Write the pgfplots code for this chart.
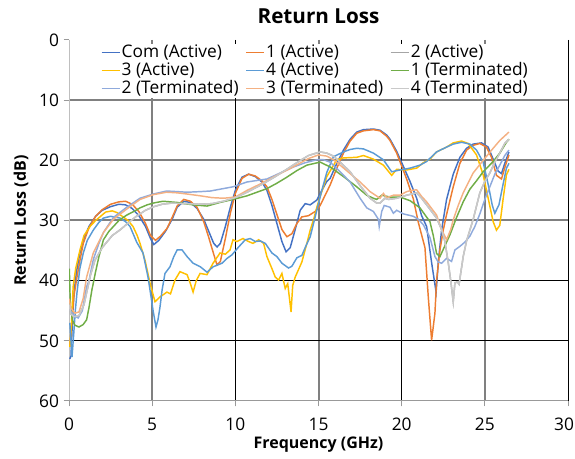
\documentclass[border=0pt]{standalone}
\usepackage{pgfplots}
\pgfplotsset{compat=1.18}
\usepackage{fontspec}
\setmainfont{Open Sans}
\definecolor{c0}{HTML}{4472C4}
\definecolor{c1}{HTML}{ED7D31}
\definecolor{c2}{HTML}{A5A5A5}
\definecolor{c3}{HTML}{FFC000}
\definecolor{c4}{HTML}{5B9BD5}
\definecolor{c5}{HTML}{70AD47}
\definecolor{c6}{HTML}{8FAADC}
\definecolor{c7}{HTML}{F4B183}
\definecolor{c8}{HTML}{C9C9C9}
\definecolor{gridgray}{HTML}{808080}
\newcommand{\fs}{\fontsize{13}{15}\selectfont}
\newcommand{\fl}{\fontsize{12}{14}\selectfont}
\newcommand{\ft}{\fontsize{15.5}{18}\selectfont}
\begin{document}
\begin{tikzpicture}
\begin{axis}[
  at={(0,0)}, anchor=south west,
  scale only axis, width=374.25pt, height=270.75pt,
  xmin=0, xmax=30, ymin=0, ymax=60, y dir=reverse,
  xtick={0,5,...,25}, ytick={0,10,...,60},
  minor xtick={5,15,25}, minor ytick={10,20,30},
  xminorgrids=true, yminorgrids=true,
  minor grid style={gridgray, line width=1.5pt},
  extra x ticks={10,20,30}, extra x tick labels={,,30},
  extra x tick style={xmajorgrids=true, major grid style={black, line width=0.75pt},
    xticklabel style={xshift=-3pt}},
  extra y ticks={40,50}, extra y tick labels={},
  extra y tick style={ymajorgrids=true, major grid style={black, line width=0.75pt}},
  axis line style={draw=none},
  tick style={black!40, line width=0.75pt},
  major tick length=4pt, minor tick length=0pt,
  tick align=outside,
  xtick pos=bottom, ytick pos=left,
  ticklabel style={font=\fs},
  xticklabel style={yshift=-5pt},
  /pgf/number format/assume math mode=true,
  legend columns=3,
  legend cell align=left,
  legend style={at={(0.493,1)}, anchor=north, yshift=-2.25pt, draw=none, fill=none,
    font=\fs, inner sep=0pt, row sep=0pt,
    nodes={inner xsep=1pt, inner ysep=0.25pt},
    /tikz/every even column/.style={column sep=4pt}},
  legend image code/.code={\path[draw=none, fill=none] (0pt,-6.75pt) rectangle (13.5pt,6.75pt);
    \draw[#1, line width=1.1pt] (0pt,0pt) -- (13.5pt,0pt);},
  every axis plot/.append style={line width=1.1pt},
]
\fill[white] (axis cs:1.8,0.7) rectangle (axis cs:27.7,9.6);
\draw[black!25, line width=0.75pt] (axis cs:0,0) -- (axis cs:0,60);
\draw[black!40, line width=0.75pt] (axis cs:0,60) -- (axis cs:30,60);

\addplot[c0] coordinates {(0.05,53) (0.12,52.5) (0.2,47) (0.3,42) (0.45,38.5) (0.65,35.5) (0.9,33) (1.2,31) (1.6,29.3) (2.0,28.3) (2.5,27.7) (3.0,27.3) (3.4,27.4) (3.8,28) (4.2,29.2) (4.6,31) (4.9,33) (5.1,34) (5.4,33.3) (5.8,31.8) (6.2,29.8) (6.5,27.8) (6.9,26.8) (7.3,27) (7.7,28) (8.1,29.8) (8.4,31.8) (8.7,33.8) (8.9,34.4) (9.1,33.8) (9.4,31) (9.7,27.8) (10.0,25) (10.4,22.8) (10.8,22.3) (11.2,22.7) (11.6,23.6) (11.9,25) (12.2,27.5) (12.5,30.5) (12.8,33.5) (13.05,35.2) (13.3,34.5) (13.6,31.5) (13.9,28.3) (14.2,27.2) (14.5,27.4) (14.9,26.6) (15.2,25) (15.5,23.5) (15.7,23) (16.1,20.5) (16.5,18.3) (16.9,16.5) (17.3,15.3) (17.7,14.9) (18.3,14.8) (18.7,15) (19.1,15.8) (19.3,16.5) (19.7,18.5) (20.1,21) (20.5,23.5) (20.9,26.3) (21.2,29.2) (21.5,31) (21.8,37) (22.07,41.9) (22.2,37) (22.4,31.6) (22.7,26.5) (23.1,22.3) (23.5,19.5) (23.9,18) (24.3,17.3) (24.8,17.1) (25.2,17.8) (25.5,19.8) (25.8,21.8) (26.0,22.2) (26.2,20.5) (26.45,18.6)};
\addlegendentry{Com (Active)}
\addplot[c1] coordinates {(0.05,51) (0.15,47.5) (0.3,42.5) (0.48,39.4) (0.7,36) (0.86,33.8) (1.2,31.2) (1.6,29.3) (2.0,28.2) (2.5,27.3) (3.0,26.9) (3.4,26.8) (3.8,27.3) (4.2,28.5) (4.6,30.5) (4.9,32.5) (5.2,33.3) (5.5,32.6) (5.9,31.3) (6.2,29.5) (6.5,27.6) (6.9,26.5) (7.3,26.8) (7.7,27.8) (8.1,30.2) (8.4,32.8) (8.7,35.6) (8.9,37.4) (9.1,36.8) (9.4,33) (9.7,28.8) (10.0,25.5) (10.4,23) (10.8,22.3) (11.2,22.6) (11.6,23.4) (11.9,24.4) (12.2,26.5) (12.5,29) (12.8,31.5) (13.1,32.7) (13.4,32.2) (13.7,30.5) (14.0,29.4) (14.4,29.2) (14.8,28.5) (15.1,27.5) (15.4,25.8) (15.7,24.1) (16.1,21.3) (16.5,18.8) (16.9,16.8) (17.3,15.5) (17.7,15.1) (18.3,14.9) (18.7,15.1) (19.1,16) (19.3,16.7) (19.7,18.8) (20.3,23.1) (20.7,26.4) (21.0,30.3) (21.4,34.5) (21.6,42.7) (21.8,49.9) (22.0,45.4) (22.1,39.9) (22.3,34.9) (22.5,31.6) (22.7,29) (23.1,24.4) (23.5,20.5) (23.9,18.3) (24.3,17.5) (24.7,17.2) (25.1,17.8) (25.4,19.5) (25.7,22.5) (26.0,23.1) (26.2,21.2) (26.45,19.1)};
\addlegendentry{1 (Active)}
\addplot[c2] coordinates {(0.02,44) (0.1,45.5) (0.3,46) (0.6,45.8) (0.9,44) (1.1,41.5) (1.3,39) (1.56,36.6) (2.0,34.5) (2.6,32.5) (3.1,31.5) (3.6,30.3) (4.1,29.2) (4.6,28.3) (5.1,27.7) (5.6,27.3) (6.2,27.1) (7.0,27.2) (7.8,27.3) (8.6,27.2) (9.3,26.8) (10.0,26.2) (10.7,25.3) (11.6,24) (12.4,22.7) (13.2,21.3) (13.8,20.2) (14.4,19.2) (15.1,18.6) (15.5,18.8) (15.9,19.3) (16.3,20.3) (16.9,21.9) (17.5,24.2) (18.1,26.3) (18.5,27.1) (18.7,27.1) (19.0,26.3) (19.2,26.5) (19.7,26.3) (20.3,25.8) (20.9,25.4) (21.2,26.3) (21.5,27.4) (22.1,29.6) (22.4,31.5) (22.6,33.5) (22.8,37) (22.95,40) (23.1,43.5) (23.2,40.4) (23.35,40.2) (23.45,40.6) (23.7,36) (23.9,33.4) (24.3,29.8) (24.7,25.4) (25.0,23.5) (25.3,22.1) (25.6,20.3) (25.9,18.8) (26.2,17.2) (26.45,16.5)};
\addlegendentry{2 (Active)}
\addplot[c3] coordinates {(0.05,51) (0.15,47) (0.25,41) (0.4,38) (0.66,34.9) (0.9,32.5) (1.26,31) (1.6,30) (1.86,29.4) (2.2,28.6) (2.6,28.4) (2.9,28.7) (3.25,29.4) (3.55,30) (3.85,31) (4.1,32.5) (4.27,33.8) (4.57,36.6) (4.87,40.4) (5.17,43.5) (5.47,42.7) (5.89,41.9) (6.1,42.2) (6.37,39.9) (6.67,38.5) (7.1,39) (7.3,40.5) (7.46,41.9) (7.65,40) (7.88,38.8) (8.3,39) (8.66,37.1) (9.08,35.4) (9.4,35.6) (9.68,34.9) (9.86,33.2) (10.1,33.5) (10.46,33) (10.8,33.5) (11.06,33.8) (11.4,33.2) (11.7,33.8) (11.9,36) (12.2,38) (12.4,39.4) (12.6,39.9) (12.8,38.8) (13.0,41.3) (13.15,40.5) (13.35,45.2) (13.45,40.8) (13.6,39.4) (14.0,36.9) (14.3,33.8) (14.5,31.6) (14.7,29.9) (14.9,27.8) (15.1,26) (15.5,22.7) (16.1,19.9) (16.5,19.6) (17.3,19.5) (17.7,19.2) (18.3,19.8) (18.9,20.8) (19.4,22.5) (19.7,21.5) (20.3,21.6) (20.9,21.3) (21.3,20.4) (21.7,19.8) (22.1,18.6) (22.7,17.8) (23.1,17.1) (23.6,16.8) (24.0,17.2) (24.5,19.1) (24.9,22.4) (25.2,26.3) (25.5,30.2) (25.7,31.6) (25.9,30.8) (26.1,26.4) (26.3,22.4) (26.45,21.5)};
\addlegendentry{3 (Active)}
\addplot[c4] coordinates {(0.05,47) (0.12,50) (0.18,52.7) (0.28,49) (0.38,45) (0.48,42) (0.65,38) (0.86,35.4) (1.1,33.3) (1.46,31.6) (1.8,30.3) (2.07,29.6) (2.5,29.3) (3.07,29.6) (3.4,30.2) (3.67,31) (4.07,33.6) (4.45,35.4) (4.75,39.4) (4.95,43) (5.05,44.9) (5.23,47.7) (5.35,46.5) (5.47,44.4) (5.6,41.5) (5.77,38.8) (6.07,37.7) (6.3,36) (6.5,34.9) (6.8,34.9) (7.1,36) (7.46,37.1) (7.9,37.7) (8.3,38.6) (8.66,37.7) (9.2,37.1) (9.5,36.3) (9.8,35.7) (10.2,34.4) (10.6,33.2) (10.9,33) (11.2,33.5) (11.5,33.4) (11.8,33.8) (12.2,35.4) (12.5,36) (12.8,37.1) (13.2,37.9) (13.4,37.6) (13.7,36.2) (14.0,35.8) (14.2,34.5) (14.5,32.7) (14.9,28.3) (15.2,25) (15.5,22) (15.9,19.4) (16.5,18.6) (16.9,18.2) (17.3,18) (17.7,18.1) (18.3,18.8) (18.9,19.9) (19.4,21.9) (19.9,21.6) (20.5,21.3) (21.1,20.8) (21.5,20.2) (22.1,18.6) (22.7,17.8) (23.1,17.3) (23.6,17) (24.1,17.3) (24.5,18.3) (24.9,20.3) (25.2,24) (25.45,27.5) (25.6,28.8) (25.85,27.4) (26.05,24.6) (26.3,21.3) (26.45,20.5)};
\addlegendentry{4 (Active)}
\addplot[c5] coordinates {(0.02,38) (0.08,44) (0.2,46.5) (0.35,47.4) (0.6,47.7) (0.85,47.3) (1.06,46.5) (1.2,44.5) (1.38,41.5) (1.6,38.5) (1.8,36) (2.07,33.2) (2.4,31.8) (2.67,31) (3.0,30) (3.47,29.1) (3.9,28.5) (4.27,27.9) (4.7,27.4) (5.07,27.1) (5.65,26.8) (6.5,27) (7.46,27.4) (8.3,27.6) (9.08,27) (9.86,26.5) (10.7,25.9) (11.9,24.7) (12.5,23.8) (13.1,22.8) (13.7,21.7) (14.3,20.8) (15.1,20.3) (15.7,21.1) (16.5,22.7) (17.3,24.4) (17.9,25.8) (18.3,26.3) (18.5,26.5) (18.8,25.8) (19.3,26.1) (19.9,26.1) (20.5,26.7) (21.1,27.9) (21.7,30.2) (21.9,32.5) (22.1,35.5) (22.3,36) (22.5,34.8) (22.9,32.4) (23.3,29.5) (23.7,26.9) (24.1,24.8) (24.5,23.4) (24.9,21.9) (25.5,20.2) (25.9,18.8) (26.3,17) (26.45,16.5)};
\addlegendentry{1 (Terminated)}
\addplot[c6] coordinates {(0.02,44) (0.1,45) (0.3,45.8) (0.55,46.2) (0.8,45) (1.06,41) (1.2,40) (1.46,36.5) (1.8,33.8) (2.07,32) (2.67,29.5) (3.47,27.8) (4.27,26.3) (5.07,25.6) (5.87,25.1) (6.5,25.2) (7.1,25.3) (7.9,25.2) (8.5,25.1) (9.08,24.8) (9.86,24.4) (10.7,23.6) (11.9,23.1) (12.7,22.1) (13.5,21.1) (14.2,20.4) (14.9,19.9) (15.3,19.9) (15.7,20.3) (16.3,21.9) (16.9,23.6) (17.5,26.3) (17.9,27.9) (18.3,28.5) (18.6,29.8) (18.65,31) (18.8,28.5) (18.95,27.5) (19.3,27.8) (19.5,28.8) (19.7,28.3) (20.1,28.9) (20.7,29.3) (21.0,29.8) (21.3,30.7) (21.7,32.8) (22.0,36) (22.2,36.9) (22.4,37.1) (22.7,36.3) (23.0,36.8) (23.2,34.9) (23.5,34.3) (23.8,33.6) (24.1,32.6) (24.4,31) (24.7,28.9) (25.0,26.5) (25.3,24.4) (25.6,22.3) (25.9,20.8) (26.2,19.2) (26.45,18.3)};
\addlegendentry{2 (Terminated)}
\addplot[c7] coordinates {(0.02,43) (0.1,44.5) (0.36,45.4) (0.6,45.2) (0.85,43) (1.06,39.4) (1.46,35.4) (2.07,32) (2.67,29.8) (3.47,28.1) (4.27,26.5) (5.07,25.7) (5.87,25.3) (6.5,25.4) (7.1,25.6) (7.9,25.9) (8.6,26.2) (9.3,26.3) (10.0,26.1) (10.7,25) (11.6,23.8) (12.4,22.6) (13.2,21.5) (13.8,20.6) (14.4,19.7) (15.0,19.1) (15.5,19.3) (15.9,19.9) (16.3,20.8) (16.9,22.2) (17.5,23.6) (18.1,25.2) (18.7,26.3) (18.9,25.5) (19.1,26.2) (19.5,25.8) (19.9,25.8) (20.3,25.2) (20.6,25) (20.9,24.9) (21.2,26) (21.5,26.9) (22.1,29.1) (22.4,31.5) (22.7,33.2) (22.95,31.5) (23.1,29.9) (23.4,27.5) (23.7,25.4) (24.3,22.1) (24.9,20) (25.5,18) (25.9,16.7) (26.45,15.3)};
\addlegendentry{3 (Terminated)}
\addplot[c8] coordinates {(0.02,44) (0.1,45.5) (0.3,46) (0.6,45.8) (0.9,44) (1.1,41.5) (1.3,39) (1.56,36.6) (2.0,34.5) (2.6,32.5) (3.1,31.5) (3.6,30.3) (4.1,29.2) (4.6,28.3) (5.1,27.7) (5.6,27.3) (6.2,27.1) (7.0,27.2) (7.8,27.3) (8.6,27.2) (9.3,26.8) (10.0,26.2) (10.7,25.3) (11.6,24) (12.4,22.7) (13.2,21.3) (13.8,20.2) (14.4,19.2) (15.1,18.6) (15.5,18.8) (15.9,19.3) (16.3,20.3) (16.9,21.9) (17.5,24.2) (18.1,26.3) (18.5,27.1) (18.7,27.1) (19.0,26.3) (19.2,26.5) (19.7,26.3) (20.3,25.8) (20.9,25.4) (21.2,26.3) (21.5,27.4) (22.1,29.6) (22.4,31.5) (22.6,33.5) (22.8,37) (22.95,40) (23.1,43.5) (23.2,40.4) (23.35,40.2) (23.45,40.6) (23.7,36) (23.9,33.4) (24.3,29.8) (24.7,25.4) (25.0,23.5) (25.3,22.1) (25.6,20.3) (25.9,18.8) (26.2,17.2) (26.45,16.5)};
\addlegendentry{4 (Terminated)}
\end{axis}
\node[font=\ft\bfseries, anchor=base] at (187.125pt,282.75pt) {Return Loss};
\node[font=\fl\bfseries, anchor=base] at (187.125pt,-35.5pt) {Frequency (GHz)};
\node[font=\fl\bfseries, anchor=base, rotate=90] at (-32.25pt,135.375pt) {Return Loss (dB)};
\pgfresetboundingbox
\path[use as bounding box] (-51.75pt,-43.5pt) rectangle (379.5pt,300.75pt);
\end{tikzpicture}
\end{document}
